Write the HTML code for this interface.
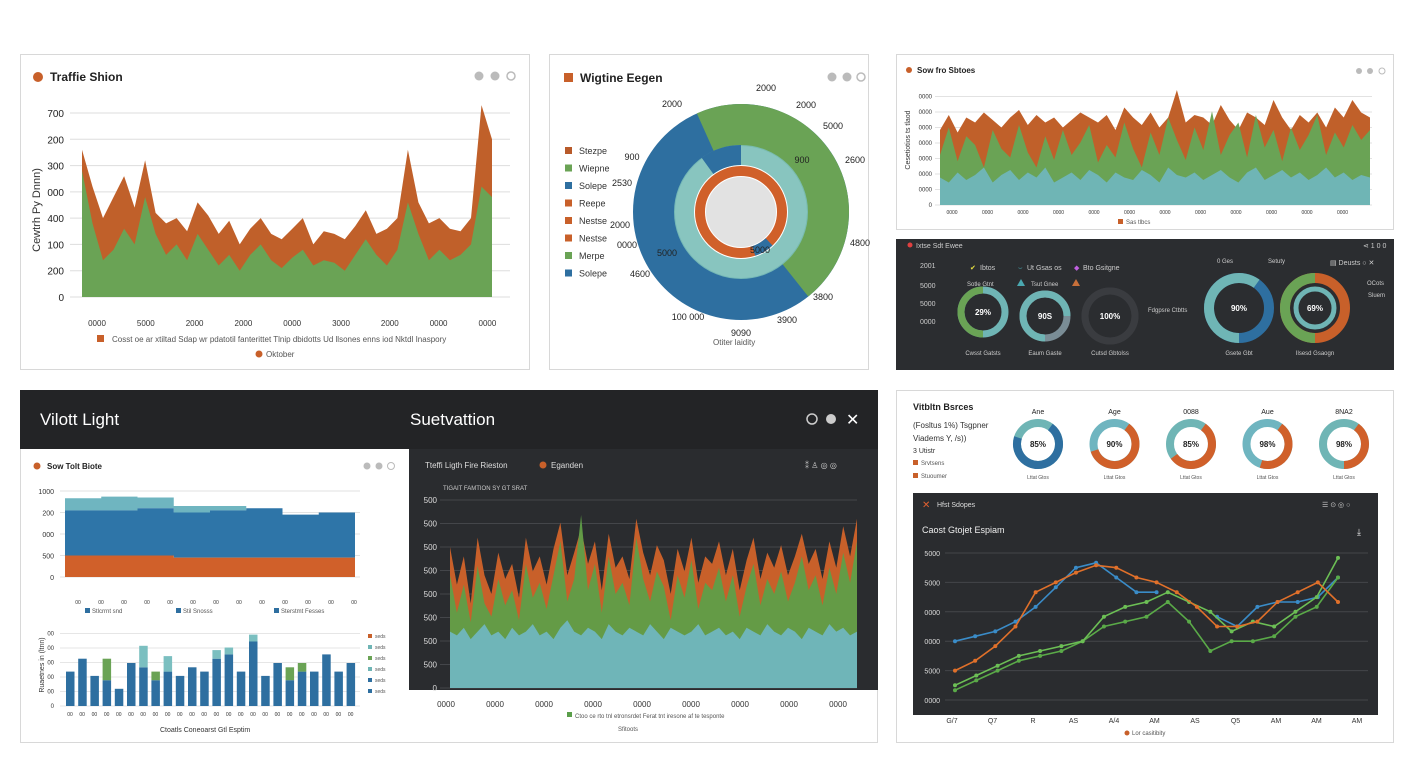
<!DOCTYPE html>
<html><head><meta charset="utf-8"><style>
html,body{margin:0;padding:0;background:#fff;width:1408px;height:768px;overflow:hidden;font-family:"Liberation Sans",sans-serif}
svg text{font-family:"Liberation Sans",sans-serif}
</style></head><body>
<svg id="root" width="1408" height="768" viewBox="0 0 1408 768" xmlns="http://www.w3.org/2000/svg">
<rect x="20.5" y="54.5" width="509" height="315" fill="#fff" stroke="#d8d8d8"/>
<rect x="549.5" y="54.5" width="319" height="315" fill="#fff" stroke="#d8d8d8"/>
<rect x="896.5" y="54.5" width="497" height="175" fill="#fff" stroke="#d8d8d8"/>
<rect x="896" y="239" width="498" height="131" fill="#2b2d30"/>
<rect x="20.5" y="390.5" width="857" height="352" fill="#fff" stroke="#d8d8d8"/>
<rect x="20" y="390" width="858" height="59" fill="#232426"/>
<rect x="409" y="449" width="469" height="241" fill="#2a2c2f"/>
<rect x="896.5" y="390.5" width="497" height="352" fill="#fff" stroke="#d8d8d8"/>
<rect x="913" y="493" width="465" height="222" fill="#2a2c2f"/>

<circle cx="38" cy="77" r="5" fill="#c8602a"/>
<text x="50" y="81" font-size="12" font-weight="bold" fill="#222">Traffie Shion</text>
<circle cx="479" cy="76" r="4.5" fill="#bbb"/>
<circle cx="495" cy="76" r="4.5" fill="#bbb"/>
<circle cx="511" cy="76" r="4" fill="#fff" stroke="#bbb" stroke-width="1.5"/>
<text x="40" y="210" font-size="11" fill="#333" transform="rotate(-90 40 210)" text-anchor="middle">Cewtrh Py Dnnn)</text>
<rect x="97" y="335" width="7" height="7" fill="#c8602a"/>
<text x="112" y="342" font-size="8" fill="#555">Cosst oe ar xtiltad Sdap wr pdatotil fanterittet Tlnip dbidotts Ud llsones enns iod Nktdl Inaspory</text>
<circle cx="259" cy="354" r="3.5" fill="#c8602a"/>
<text x="266" y="357" font-size="8" fill="#555">Oktober</text>

<rect x="564" y="73" width="9" height="9" fill="#c8602a"/>
<text x="580" y="82" font-size="12" font-weight="bold" fill="#222">Wigtine Eegen</text>
<circle cx="832" cy="77" r="4.5" fill="#bbb"/>
<circle cx="847" cy="77" r="4.5" fill="#bbb"/>
<circle cx="861" cy="77" r="4" fill="#fff" stroke="#bbb" stroke-width="1.5"/>
<text x="713" y="345" font-size="8" fill="#555">Otiter laidity</text>

<circle cx="909" cy="70" r="3" fill="#c8602a"/>
<text x="917" y="73" font-size="8" font-weight="bold" fill="#222">Sow fro Sbtoes</text>
<circle cx="1359" cy="71" r="3" fill="#bbb"/>
<circle cx="1370" cy="71" r="3" fill="#bbb"/>
<circle cx="1382" cy="71" r="3" fill="#fff" stroke="#bbb"/>
<text x="910" y="140" font-size="7" fill="#333" transform="rotate(-90 910 140)" text-anchor="middle">Cesetiotios ts tlaod</text>
<rect x="1118" y="219" width="5" height="5" fill="#c8602a"/>
<text x="1126" y="224" font-size="6" fill="#555">Sas tlbcs</text>

<circle cx="910" cy="245" r="2.5" fill="#e04040"/>
<text x="916" y="248" font-size="7" fill="#ccc">Ixtse Sdt Ewee</text>
<text x="1363" y="248" font-size="7" fill="#ccc">⋖ 1 0 0</text>
<text x="920" y="268" font-size="7" fill="#ccc">2001</text>
<text x="920" y="288" font-size="7" fill="#ccc">5000</text>
<text x="920" y="306" font-size="7" fill="#ccc">5000</text>
<text x="920" y="324" font-size="7" fill="#ccc">0000</text>
<text x="970" y="270" font-size="7" fill="#e8e040">✔</text>
<text x="980" y="270" font-size="7" fill="#ccc">Ibtos</text>
<text x="1018" y="270" font-size="7" fill="#4aa8b0">⌣</text>
<text x="1027" y="270" font-size="7" fill="#ccc">Ut Gsas os</text>
<text x="1074" y="270" font-size="7" fill="#c060e0">◆</text>
<text x="1083" y="270" font-size="7" fill="#ccc">Bto Gsitgne</text>
<text x="967" y="286" font-size="6" fill="#ccc">Sotle Gtnt</text>
<polygon points="1017,286 1021,279 1025,286" fill="#4aa8b0"/>
<text x="1031" y="286" font-size="6" fill="#ccc">Tsut Gnee</text>
<polygon points="1072,286 1076,279 1080,286" fill="#c8703a"/>
<text x="1148" y="312" font-size="6" fill="#ccc">Fdgpsre  Ctbtts</text>
<text x="1217" y="263" font-size="6" fill="#ccc">0 Ges</text>
<text x="1268" y="263" font-size="6" fill="#ccc">Setuty</text>
<text x="1330" y="265" font-size="7" fill="#ccc">▤ Deusts  ○  ✕</text>
<text x="1367" y="285" font-size="6" fill="#ccc">OCots</text>
<text x="1368" y="297" font-size="6" fill="#ccc">Sluem</text>

<text x="40" y="425" font-size="17" fill="#fff">Vilott Light</text>
<text x="410" y="425" font-size="17" fill="#fff">Suetvattion</text>
<circle cx="812" cy="419" r="5" fill="none" stroke="#ccc" stroke-width="1.5"/>
<circle cx="831" cy="419" r="5" fill="#ccc"/>
<text x="846" y="425" font-size="16" fill="#fff">✕</text>
<circle cx="37" cy="466" r="3.5" fill="#c8602a"/>
<text x="47" y="469" font-size="8" font-weight="bold" fill="#222">Sow Tolt Biote</text>
<circle cx="367" cy="466" r="3.5" fill="#bbb"/>
<circle cx="379" cy="466" r="3.5" fill="#bbb"/>
<circle cx="391" cy="466" r="3.5" fill="#fff" stroke="#bbb"/>
<rect x="85" y="608" width="5" height="5" fill="#2e6fa0"/>
<text x="92" y="613" font-size="6" fill="#555">Stlcrrnt snd</text>
<rect x="176" y="608" width="5" height="5" fill="#2e6fa0"/>
<text x="183" y="613" font-size="6" fill="#555">Stil Snosss</text>
<rect x="274" y="608" width="5" height="5" fill="#2e6fa0"/>
<text x="281" y="613" font-size="6" fill="#555">Sterstmt Fesses</text>
<text x="44" y="665" font-size="7" fill="#333" transform="rotate(-90 44 665)" text-anchor="middle">Ruaetnes in (ltnn)</text>
<text x="160" y="732" font-size="7" fill="#333">Ctoatls Coneoarst Gtl Esptim</text>
<text x="425" y="468" font-size="8" fill="#ddd">Tteffi Ligth Fire Rieston</text>
<circle cx="543" cy="465" r="3.5" fill="#c8602a"/>
<text x="551" y="468" font-size="8" fill="#ddd">Eganden</text>
<text x="805" y="468" font-size="8" fill="#ccc">⁑  ♙  ◎  ◎</text>
<text x="443" y="490" font-size="6" fill="#ccc">TIGAIT FAMTION SY GT SRAT</text>
<rect x="567" y="712" width="5" height="5" fill="#5a9e4a"/>
<text x="575" y="718" font-size="6" fill="#555">Ctoo ce rto tnl etronsrdet Ferat tnt iresone af te tesponte</text>
<text x="618" y="731" font-size="6" fill="#555">Sfitoots</text>

<text x="913" y="410" font-size="9" font-weight="bold" fill="#222">Vitbltn Bsrces</text>
<text x="913" y="428" font-size="8" fill="#333">(Fosltus 1%) Tsgpner</text>
<text x="913" y="441" font-size="8" fill="#333">Viadems Y, /s))</text>
<text x="913" y="453" font-size="7" fill="#333">3 Utistr</text>
<rect x="913" y="460" width="5" height="5" fill="#c8602a"/>
<text x="921" y="465" font-size="6" fill="#555">Srvtsens</text>
<rect x="913" y="473" width="5" height="5" fill="#c8602a"/>
<text x="921" y="478" font-size="6" fill="#555">Stuoumer</text>
<text x="922" y="508" font-size="10" fill="#e06030">✕</text>
<text x="937" y="507" font-size="7" fill="#ddd">Hfst Sdopes</text>
<text x="1322" y="507" font-size="7" fill="#ccc">☰  ⊙ ◎ ○</text>
<text x="922" y="533" font-size="9" fill="#eee">Caost Gtojet Espiam</text>
<text x="1357" y="535" font-size="9" fill="#eee">⤓</text>
<circle cx="1127" cy="733" r="2.5" fill="#c8602a"/>
<text x="1132" y="735" font-size="6" fill="#555">Lor casitibity</text>
<g id="dyn"></g>
</svg>
<script>
const p1Labels=["0000","5000","2000","2000","0000","3000","2000","0000","0000"];
const p1Ticks=[0,200,100,400,000,300,200,700];
const p1Orange=[560,420,300,380,460,340,520,320,280,300,250,360,310,240,290,200,260,300,240,220,260,300,200,250,240,220,270,330,240,260,300,560,360,280,300,260,250,300,730,600];
const p1Green=[480,280,140,180,260,200,380,240,160,200,140,240,180,120,160,100,160,200,140,110,150,180,120,140,130,100,160,220,160,120,180,360,240,140,180,140,160,200,420,380];
const donutOuterGreen=0.46;
const donutLegend=["Stezpe","Wiepne","Solepe","Reepe","Nestse","Nestse","Merpe","Solepe"];
const donutLegendColors=["#b85a2a","#6aa355","#2e6fa0","#c8602a","#c8602a","#c8602a","#6aa355","#2e6fa0"];
const p3Orange=[60,72,58,70,66,74,68,62,70,76,64,72,66,70,62,68,74,70,66,72,60,78,70,64,74,62,70,92,66,72,70,64,80,68,60,74,70,64,84,70,60,72,66,74,62,78,70,84,74,70];
const p3Green=[40,62,35,55,48,30,60,45,38,64,42,30,55,36,60,40,50,64,34,48,38,66,45,30,58,40,70,52,36,62,44,75,40,56,66,38,72,46,60,35,62,44,56,72,40,58,46,64,52,60];
const p3Teal=[22,18,26,20,24,30,18,24,28,20,26,22,30,18,22,26,20,28,24,18,26,22,20,28,24,18,30,24,22,26,20,24,28,22,18,26,30,20,24,28,22,26,20,24,30,22,26,20,24,22];
const stepOrange=[500,500,500,450,450,450,450,450];
const stepBlue=[1050,1050,1100,1050,1100,1150,1000,1050];
const stepTeal=[280,320,250,150,100,0,0,0];
const barBlue=[40,55,35,30,20,50,45,30,40,35,45,40,55,60,40,75,35,50,30,40,40,60,40,50];
const barTop=[0,0,0,25,0,0,25,10,18,0,0,0,10,8,0,8,0,0,15,10,0,0,0,0];
const barTopColor=["","","","#6aa355","","","#7bbfc0","#6aa355","#7bbfc0","","","","#7bbfc0","#7bbfc0","","#7bbfc0","","","#6aa355","#6aa355","","","",""];
const p5Orange=[75,55,70,45,80,60,50,72,58,66,48,80,62,70,55,74,88,60,72,85,66,78,52,82,64,70,58,90,72,60,76,68,50,74,62,80,56,70,66,78,60,74,52,68,80,58,72,64,76,60,70,82,66,74,58,78,64,86,70,90];
const p5Green=[60,40,55,35,65,45,38,58,44,52,36,66,48,56,42,60,78,46,58,92,52,66,40,70,50,56,44,80,58,46,62,54,36,60,48,68,42,56,52,64,46,60,38,54,66,44,58,50,62,46,56,70,52,60,44,64,50,72,56,78];
const p5Teal=[30,28,32,26,30,34,28,30,26,32,28,30,34,28,30,26,32,36,30,28,32,30,26,34,30,28,32,30,28,34,30,26,32,30,28,30,34,28,30,32,28,30,26,32,30,28,34,30,28,32,30,26,32,30,28,34,30,32,28,30];
const p5Ticks=["0","500","500","500","500","500","500","500","500"];
const p5XLabels=["0000","0000","0000","0000","0000","0000","0000","0000","0000"];
const lineXLabels=["G/7","Q7","R","AS","A/4","AM","AS","Q5","AM","AM","AM"];
const lineYTicks=["0000","5000","0000","0000","5000","5000"];
const lineBlue=[24,26,28,32,38,46,54,56,50,44,44,null,null,34,30,38,40,40,42,50];
const lineOrange=[12,16,22,30,44,48,52,55,54,50,48,44,38,30,30,32,40,44,48,40];
const lineGreen1=[6,10,14,18,20,22,24,34,38,40,44,40,36,28,32,30,36,42,58];
const lineGreen2=[4,8,12,16,18,20,24,30,32,34,40,32,20,24,24,26,34,38,50];
const ringPcts=[0.5,0.75,1.0,0.6,0.5];
const ringLabels=["29%","90S","100%","90%","69%"];
const topDonutPcts=[0.7,0.6,0.55,0.45,0.4];
const topDonutLabels=["85%","90%","85%","98%","98%"];
const topDonutNames=["Ane","Age","0088","Aue","8NA2"];

const NS="http://www.w3.org/2000/svg";
const dyn=document.getElementById('dyn');
function mk(tag,attrs,parent){const e=document.createElementNS(NS,tag);for(const k in attrs)e.setAttribute(k,attrs[k]);(parent||dyn).appendChild(e);return e;}
function lin(d0,d1,r0,r1){return v=>r0+(v-d0)/(d1-d0)*(r1-r0);}
function areaD(vals,xs,ys,base){let d="M"+xs(0)+","+base;vals.forEach((v,i)=>{d+=" L"+xs(i).toFixed(1)+","+ys(v).toFixed(1);});return d+" L"+xs(vals.length-1)+","+base+" Z";}
function arcD(cx,cy,r,a0,a1){const p=a=>[cx+r*Math.sin(a*2*Math.PI),cy-r*Math.cos(a*2*Math.PI)];const s=p(a0),e=p(Math.min(a1,a0+0.9999));return "M"+s[0]+","+s[1]+" A"+r+","+r+" 0 "+((a1-a0)>0.5?1:0)+" 1 "+e[0]+","+e[1];}
function txt(x,y,s,size,fill,anchor){const t=mk('text',{x:x,y:y,'font-size':size,fill:fill,'text-anchor':anchor||'start'});t.textContent=s;return t;}

{const xs=lin(0,p1Orange.length-1,82,492),ys=lin(0,700,297,113);
for(let i=0;i<8;i++){const y=ys(i*100);const g=mk('line',{x1:70,x2:510,y1:y,y2:y,stroke:'#ddd'});


const t=txt(64,y+4,String(p1Ticks[i]===0&&i>0?'000':p1Ticks[i]),10,'#222','end');

}
const a=mk('path',{d:areaD(p1Orange,xs,ys,297),fill:'#c0602a'});


const b=mk('path',{d:areaD(p1Green,xs,ys,297),fill:'#6aa355'});


p1Labels.forEach((l,i)=>{const t=txt(97+i*48.8,326,l,8,'#333','middle');

});}

{const cx=741,cy=212;
const blue=mk('circle',{cx:cx,cy:cy,r:87,fill:'none',stroke:'#2e6fa0','stroke-width':42});


const g=mk('path',{d:arcD(cx,cy,87,-0.067,donutOuterGreen-0.067),fill:'none',stroke:'#6aa355','stroke-width':42});


const m=mk('circle',{cx:cx,cy:cy,r:57,fill:'none',stroke:'#7bbfb8','stroke-width':20,opacity:0.9});


const mb=mk('path',{d:arcD(cx,cy,57,-0.1,0.0),fill:'none',stroke:'#2e6fa0','stroke-width':20});


const o=mk('circle',{cx:cx,cy:cy,r:41,fill:'none',stroke:'#d0602a','stroke-width':10});


const ib=mk('path',{d:arcD(cx,cy,41,0.38,0.45),fill:'none',stroke:'#2e6fa0','stroke-width':10});


const c=mk('circle',{cx:cx,cy:cy,r:35,fill:'#e2e2e2'});


[[672,107,'2000'],[766,91,'2000'],[806,108,'2000'],[833,129,'5000'],[632,160,'900'],[802,163,'900'],[855,163,'2600'],[622,186,'2530'],[620,228,'2000'],[627,248,'0000'],[667,256,'5000'],[760,253,'5000'],[860,246,'4800'],[640,277,'4600'],[823,300,'3800'],[688,320,'100 000'],[787,323,'3900'],[741,336,'9090']].forEach(p=>{const t=txt(p[0],p[1],p[2],9,'#222','middle');

});
donutLegend.forEach((l,i)=>{const y=151+i*17.5;const r=mk('rect',{x:565,y:y-4,width:7,height:7,fill:donutLegendColors[i]});


const t=txt(579,y+3,l,9,'#333');

});}

{const xs=lin(0,p3Orange.length-1,940,1370),ys=lin(0,100,205,80);
for(let i=0;i<8;i++){const y=205-i*15.5;const g=mk('line',{x1:935,x2:1372,y1:y,y2:y,stroke:'#e2e2e2'});


const t=txt(932,y+2,i===0?'0':'0000',6,'#333','end');

}
const a=mk('path',{d:areaD(p3Orange,xs,ys,205),fill:'#c0602a'});


const b=mk('path',{d:areaD(p3Green,xs,ys,205),fill:'#6aa355'});


const c=mk('path',{d:areaD(p3Teal,xs,ys,205),fill:'#6fb5b5'});


for(let i=0;i<12;i++){const t=txt(952+i*35.5,214,'0000',5,'#333','middle');

}}

{const rc=[[983,312,22,'#6aa355','#6fb5b5'],[1045,316,22,'#6fb5b5','#7a8d96'],[1110,316,25,'#3a3c40','#3a3c40'],[1239,308,30,'#6fb5b5','#2e6fa0'],[1315,308,30,'#6aa355','#c8602a']];
const names=["Cwsst Gatsts","Eaum Gaste","Cutsd Gbtolss","Gsete Gbt","Ilsesd Gsaogn"];
rc.forEach((r,i)=>{const bg=mk('circle',{cx:r[0],cy:r[1],r:r[2],fill:'none',stroke:r[4],'stroke-width':i>=3?10:7});


const fg=mk('path',{d:arcD(r[0],r[1],r[2],0.5,0.5+ringPcts[i]),fill:'none',stroke:r[3],'stroke-width':i>=3?10:7});


if(i===4){const inn=mk('circle',{cx:r[0],cy:r[1],r:19,fill:'none',stroke:'#6fb5b5','stroke-width':5});

}
const t=txt(r[0],r[1]+3,ringLabels[i],8,'#fff','middle');t.setAttribute('font-weight','bold');


const n=txt(r[0],355,names[i],6,'#ccc','middle');

});}

{const xs=lin(0,stepOrange.length,65,355),ys=lin(0,2000,577,491);
["0","500","000","200","1000"].forEach((l,i)=>{const y=577-i*21.5;const g=mk('line',{x1:60,x2:360,y1:y,y2:y,stroke:'#e2e2e2'});


const t=txt(54,y+3,l,7,'#333','end');

});
function stepD(lo,hi){let d="";for(let i=0;i<stepOrange.length;i++){d+=(i?"L":"M")+xs(i)+","+ys(hi[i])+" L"+xs(i+1)+","+ys(hi[i])+" ";}for(let i=stepOrange.length-1;i>=0;i--){d+="L"+xs(i+1)+","+ys(lo[i])+" L"+xs(i)+","+ys(lo[i])+" ";}return d+"Z";}
const zero=stepOrange.map(()=>0),c1=stepOrange,c2=stepOrange.map((v,i)=>v+stepBlue[i]),c3=c2.map((v,i)=>v+stepTeal[i]);
const t3=mk('path',{d:stepD(c2,c3),fill:'#6fb5c0'});


const t2=mk('path',{d:stepD(c1,c2),fill:'#2e75a8'});


const t1=mk('path',{d:stepD(zero,c1),fill:'#d0602a'});


for(let i=0;i<13;i++){const t=txt(78+i*23,604,'00',5,'#333','middle');

}}

{const ys=lin(0,100,706,620);const bw=8.5;
for(let i=0;i<6;i++){const y=706-i*14.5;const g=mk('line',{x1:60,x2:360,y1:y,y2:y,stroke:'#e6e6e6'});


const t=txt(54,y+2,i===0?'0':'00',6,'#333','end');

}
barBlue.forEach((v,i)=>{const x=66+i*12.2;const b=mk('rect',{x:x,y:ys(v),width:bw,height:706-ys(v),fill:'#2e6fa0'});


if(barTop[i]>0){const t=mk('rect',{x:x,y:ys(v+barTop[i]),width:bw,height:ys(v)-ys(v+barTop[i]),fill:barTopColor[i]});

}
const l=txt(x+4,716,'00',5,'#333','middle');

});
["#c8602a","#6fb5b5","#6aa355","#6fb5b5","#2e6fa0","#2e6fa0"].forEach((c,i)=>{const r=mk('rect',{x:368,y:634+i*11,width:4,height:4,fill:c});


const t=txt(375,638+i*11,'seds',5,'#555');

});}

{const xs=lin(0,p5Orange.length-1,450,857),ys=lin(0,100,688,500);
p5Ticks.forEach((l,i)=>{const y=688-i*23.5;const g=mk('line',{x1:440,x2:857,y1:y,y2:y,stroke:'#44464a'});


const t=txt(437,y+3,l,8,'#ddd','end');

});
const a=mk('path',{d:areaD(p5Orange,xs,ys,688),fill:'#c8602a'});


const b=mk('path',{d:areaD(p5Green,xs,ys,688),fill:'#5f9e48',opacity:0.95});


const c=mk('path',{d:areaD(p5Teal,xs,ys,688),fill:'#6fb5b8'});


p5XLabels.forEach((l,i)=>{const t=txt(446+i*49,707,l,8,'#333','middle');

});}

topDonutPcts.forEach((p,i)=>{const cx=1038+i*76.5,cy=444;
const bg=mk('circle',{cx:cx,cy:cy,r:21,fill:'none',stroke:i%2?'#6fb5c0':'#6fb5b5','stroke-width':8});


const fg=mk('path',{d:arcD(cx,cy,21,0.1,0.1+p),fill:'none',stroke:i===0?'#2e6fa0':'#d0602a','stroke-width':8});


const t=txt(cx,cy+3,topDonutLabels[i],8,'#222','middle');t.setAttribute('font-weight','bold');


const n=txt(cx,414,topDonutNames[i],7,'#222','middle');


const s=txt(cx,479,'Lttat Gtos',5,'#555','middle');

});

{const ys=lin(0,60,700,553);
lineYTicks.forEach((l,i)=>{const y=700-i*29.4;const g=mk('line',{x1:945,x2:1368,y1:y,y2:y,stroke:'#44464a'});


const t=txt(940,y+3,l,7,'#ddd','end');

});
lineXLabels.forEach((l,i)=>{const t=txt(952+i*40.5,723,l,7,'#333','middle');

});
function drawLine(vals,color,name){const xs=lin(0,vals.length-1,955,1338);let d="";let pen=false;
vals.forEach((v,i)=>{if(v===null){pen=false;return;}d+=(pen?"L":"M")+xs(i).toFixed(1)+","+ys(v).toFixed(1)+" ";pen=true;});
const p=mk('path',{d:d,fill:'none',stroke:color,'stroke-width':1.6});


vals.forEach((v,i)=>{if(v===null)return;const c=mk('circle',{cx:xs(i),cy:ys(v),r:2,fill:color});

});}
drawLine(lineBlue,'#3a8cc8','blue-line');
drawLine(lineGreen2,'#5aaa48','green-line-2');
drawLine(lineGreen1,'#6cbf55','green-line-1');
drawLine(lineOrange,'#e0702a','orange-line');}
</script>
</body></html>
